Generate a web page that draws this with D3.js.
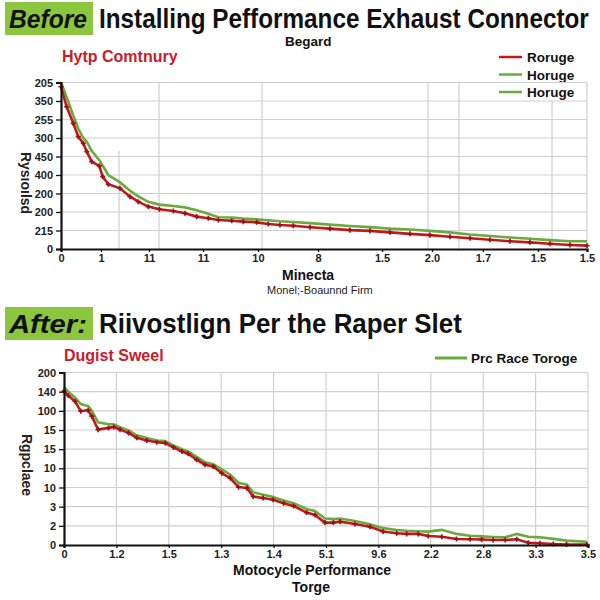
<!DOCTYPE html>
<html><head><meta charset="utf-8">
<script src="https://cdn.jsdelivr.net/npm/d3@7"></script>
<style>body{margin:0;background:#fff}svg{display:block}text{font-family:"Liberation Sans",Arial,sans-serif}</style>
</head><body><svg id="c" width="600" height="600"></svg>
<script>
// ---------- DATA ----------
const topYLabels = ["0","215","200","200","400","450","300","255","350","205"];
const topXTickVals = [0,7.6,16.73,27.0,37.45,48.86,61.03,70.53,80.23,90.68,100];
const topXLabels = ["0","1","11","11","10","8","1.5","2.0","1.7","1.5","1.5"];
const topGridFull = [18.63,38.21,69.77,75.67];
const topGridPartial = [[11.03,5.3],[93.35,8]];
const topX = [0,1.08,2.34,3.29,4.24,4.90,5.84,7.29,7.93,8.99,11.22,13.12,14.70,16.60,18.69,21.35,23.57,25.80,28.01,29.91,32.45,34.66,37.20,39.41,41.63,44.16,47.34,51.14,54.94,58.75,62.55,66.35,70.15,73.95,77.76,81.56,85.36,89.16,92.97,96.77,100];
const topRed = [8.77,7.69,6.79,6.07,5.71,5.26,4.72,4.49,3.91,3.50,3.28,2.83,2.56,2.29,2.15,2.05,1.93,1.75,1.66,1.57,1.53,1.48,1.44,1.35,1.30,1.26,1.18,1.10,1.02,0.98,0.90,0.82,0.75,0.66,0.58,0.50,0.42,0.36,0.28,0.22,0.18];
const topGreen = [9.0,8.2,7.2,6.5,6.0,5.8,5.3,4.8,4.5,4.0,3.6,3.15,2.85,2.55,2.40,2.32,2.25,2.10,1.90,1.72,1.70,1.64,1.60,1.55,1.50,1.46,1.40,1.32,1.24,1.18,1.10,1.05,0.98,0.90,0.78,0.70,0.62,0.55,0.48,0.42,0.42];
const topLegend = ["Roruge","Horuge","Horuge"];

const botYLabels = ["0","2","3","10","10","15","15","100","140","200"];
const botXLabels = ["0","1.2","1.5","1.3","1.4","5.1","9.6","2.2","2.8","3.3","3.5"];
const botX = [0,0.08,0.21,0.32,0.46,0.53,0.65,0.85,0.95,1.07,1.23,1.39,1.58,1.77,1.93,2.09,2.25,2.37,2.53,2.69,2.85,3.01,3.17,3.33,3.49,3.61,3.80,3.99,4.19,4.38,4.63,4.79,4.98,5.14,5.27,5.55,5.84,6.09,6.35,6.54,6.76,6.95,7.21,7.49,7.75,7.97,8.19,8.42,8.64,8.86,9.08,9.34,9.59,9.98];
const botRed = [8.03,7.80,7.50,6.98,7.03,6.72,6.02,6.11,6.16,6.02,5.85,5.59,5.45,5.36,5.32,5.09,4.88,4.76,4.45,4.19,4.10,3.75,3.49,3.02,2.97,2.53,2.45,2.36,2.18,2.04,1.69,1.57,1.17,1.17,1.22,1.10,0.95,0.70,0.61,0.58,0.58,0.47,0.43,0.31,0.30,0.29,0.26,0.26,0.30,0.12,0.09,0.05,0.03,0.02];
const botGreen = [8.25,8.0,7.7,7.35,7.25,7.0,6.4,6.30,6.3,6.15,5.98,5.72,5.58,5.45,5.42,5.20,5.00,4.88,4.60,4.32,4.22,3.95,3.68,3.25,3.15,2.75,2.62,2.50,2.32,2.18,1.88,1.78,1.38,1.35,1.38,1.25,1.08,0.88,0.78,0.74,0.72,0.70,0.79,0.58,0.48,0.45,0.42,0.40,0.58,0.43,0.40,0.32,0.23,0.17];
const botLegend = ["Prc Race Toroge"];

// ---------- STYLE ----------
const RED = "#c01a1f", GREEN = "#6aab3e", GRID = "#cfcfcf", BOXG = "#8cc63f";
const svg = d3.select("#c");

function fitText(sel, x, y, target){
  const w = sel.node().getComputedTextLength();
  const s = target / w;
  sel.attr("transform",`translate(${x},${y}) scale(${s},1)`);
}

function header(y0, label, title, titleLen){
  svg.append("rect").attr("x",5).attr("y",y0).attr("width",88).attr("height",33).attr("fill",BOXG);
  const l = svg.append("text").attr("font-size",26).attr("font-weight","bold")
    .attr("font-style","italic").attr("fill","#111").text(label);
  fitText(l, 9, y0+26, 78);
  const t = svg.append("text").attr("font-size",27).attr("font-weight","bold").attr("fill","#111").text(title);
  fitText(t, 99, y0+26, titleLen);
}

function chart(o){
  const x = d3.scaleLinear().domain(o.xd).range(o.xr);
  const y = d3.scaleLinear().domain([0,9]).range(o.yr);
  const g = svg.append("g");
  g.selectAll(".hg").data(d3.range(1,10)).join("line")
    .attr("x1",o.xr[0]).attr("x2",o.xr[1]).attr("y1",d=>y(d)).attr("y2",d=>y(d))
    .attr("stroke",GRID).attr("stroke-width",1.2);
  g.selectAll(".vg").data(o.vgrid).join("line")
    .attr("x1",d=>x(d)).attr("x2",d=>x(d)).attr("y1",y(9)).attr("y2",y(0))
    .attr("stroke",GRID).attr("stroke-width",1.2);
  g.selectAll(".vp").data(o.vpart||[]).join("line")
    .attr("x1",d=>x(d[0])).attr("x2",d=>x(d[0])).attr("y1",d=>y(d[1])).attr("y2",y(0))
    .attr("stroke",GRID).attr("stroke-width",1.2);
  g.append("line").attr("x1",o.xr[1]).attr("x2",o.xr[1]).attr("y1",y(9)).attr("y2",y(0)).attr("stroke",GRID).attr("stroke-width",1.2);

  const line = d3.line().x(d=>x(d[0])).y(d=>y(d[1]));
  const gd = o.xs.map((v,i)=>[v,o.green[i]]);
  const rd = o.xs.map((v,i)=>[v,o.red[i]]);
  g.append("path").datum(gd).attr("d",line).attr("fill","none").attr("stroke",GREEN).attr("stroke-width",2.6);
  g.append("path").datum(rd).attr("d",line).attr("fill","none").attr("stroke",RED).attr("stroke-width",2.6);
  g.selectAll(".mk").data(rd).join("path")
    .attr("transform",d=>`translate(${x(d[0])},${y(d[1])})`)
    .attr("d",d3.symbol(d3.symbolCross,14)).attr("fill","#9e1015");

  const ya = d3.axisLeft(y).tickValues(d3.range(0,10)).tickFormat(i=>o.ylabels[i]).tickSize(5).tickPadding(3);
  const yg = g.append("g").attr("transform",`translate(${o.xr[0]},0)`).call(ya);
  const xa = d3.axisBottom(x).tickValues(o.xticks).tickFormat((d,i)=>o.xlabels[i]).tickSize(3).tickPadding(2);
  const xg = g.append("g").attr("transform",`translate(0,${o.yr[0]})`).call(xa);
  [yg,xg].forEach(a=>{
    a.select(".domain").attr("stroke","#111").attr("stroke-width",2.2);
    a.selectAll(".tick line").attr("stroke","#111").attr("stroke-width",1.3);
    a.selectAll("text").attr("font-size",11).attr("font-weight","bold").attr("fill","#222")
      .attr("font-family","Liberation Sans, Arial, sans-serif");
  });
}

// ---------- TOP ----------
header(2,"Before","Installing Pefformance Exhaust Connector",490);
svg.append("text").attr("x",285).attr("y",46).attr("font-size",13.5).attr("font-weight","bold").attr("fill","#111").text("Begard");
svg.append("text").attr("x",62).attr("y",62).attr("font-size",16).attr("font-weight","bold").attr("fill","#c8202a").text("Hytp Comtnury");
topLegend.forEach((t,i)=>{
  const yy = 57+i*17.5;
  svg.append("line").attr("x1",499).attr("x2",522).attr("y1",yy).attr("y2",yy).attr("stroke",i===0?RED:GREEN).attr("stroke-width",2.5);
  svg.append("text").attr("x",527).attr("y",yy+5).attr("font-size",13.5).attr("font-weight","bold").attr("fill","#111").text(t);
});
chart({xd:[0,100],xr:[61,587],yr:[249,82.5],xs:topX,red:topRed,green:topGreen,
  xticks:topXTickVals,xlabels:topXLabels,ylabels:topYLabels,vgrid:topGridFull,vpart:topGridPartial});
svg.append("text").attr("x",282).attr("y",280).attr("font-size",14).attr("font-weight","bold").attr("fill","#111").text("Minecta");
svg.append("text").attr("x",267).attr("y",294).attr("font-size",11).attr("fill","#222").text("Monel;-Boaunnd Firm");
svg.append("text").attr("transform","translate(21,183) rotate(90)").attr("text-anchor","middle")
  .attr("font-size",14).attr("font-weight","bold").attr("fill","#222").text("Rysıoılsd");

// ---------- BOTTOM ----------
header(307,"After:","Riivostlign Per the Raper Slet",363);
svg.append("text").attr("x",64).attr("y",361).attr("font-size",16).attr("font-weight","bold").attr("fill","#c8202a").text("Dugist Sweel");
botLegend.forEach((t,i)=>{
  svg.append("line").attr("x1",435).attr("x2",467).attr("y1",358).attr("y2",358).attr("stroke",GREEN).attr("stroke-width",3);
  svg.append("text").attr("x",471).attr("y",363).attr("font-size",13.5).attr("font-weight","bold").attr("fill","#111").text(t);
});
chart({xd:[0,10],xr:[64,588],yr:[545,372.5],xs:botX,red:botRed,green:botGreen,
  xticks:d3.range(0,11),xlabels:botXLabels,ylabels:botYLabels,vgrid:d3.range(1,10)});
svg.append("text").attr("x",312).attr("y",575).attr("text-anchor","middle").attr("font-size",14).attr("font-weight","bold").attr("fill","#111").text("Motocycle Performance");
svg.append("text").attr("x",311).attr("y",592).attr("text-anchor","middle").attr("font-size",14).attr("font-weight","bold").attr("fill","#111").text("Torge");
svg.append("text").attr("transform","translate(22,465) rotate(90)").attr("text-anchor","middle")
  .attr("font-size",14).attr("font-weight","bold").attr("fill","#222").text("Rgpclaee");
</script></body></html>
